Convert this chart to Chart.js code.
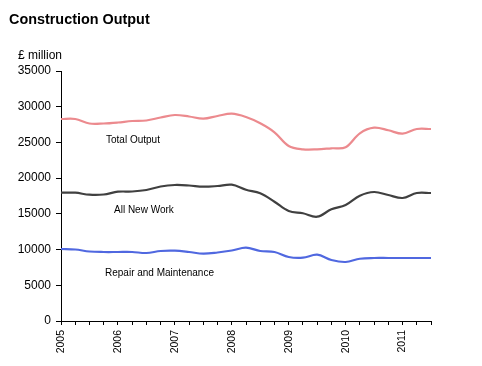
<!DOCTYPE html>
<html>
<head>
<meta charset="utf-8">
<script src="https://cdn.jsdelivr.net/npm/chart.js@4.4.1/dist/chart.umd.min.js"></script>
<style>
  html, body { margin: 0; padding: 0; background: #fff; }
  #wrap { position: relative; width: 482px; height: 366px; }
  canvas { display: block; }
</style>
</head>
<body>
<div id="wrap"><canvas id="c" width="482" height="366"></canvas></div>
<script>
// Quarterly categories, 2005 Q1 .. 2011 Q3
const quarters = [
  '2005 Q1','2005 Q2','2005 Q3','2005 Q4',
  '2006 Q1','2006 Q2','2006 Q3','2006 Q4',
  '2007 Q1','2007 Q2','2007 Q3','2007 Q4',
  '2008 Q1','2008 Q2','2008 Q3','2008 Q4',
  '2009 Q1','2009 Q2','2009 Q3','2009 Q4',
  '2010 Q1','2010 Q2','2010 Q3','2010 Q4',
  '2011 Q1','2011 Q2','2011 Q3'
];
const totalOutput = [
  28280, 28280, 27650, 27650, 27790, 28000, 28070, 28490,
  28840, 28630, 28320, 28700, 29020, 28560, 27680, 26420,
  24500, 24040, 24040, 24180, 24320, 26280, 27060, 26700,
  26220, 26880, 26880
];
const allNewWork = [
  17960, 17960, 17680, 17710, 18100, 18130, 18340, 18830,
  19040, 18970, 18800, 18900, 19080, 18380, 17880, 16700,
  15400, 15080, 14600, 15640, 16240, 17540, 18060, 17640,
  17220, 17920, 17920
];
const repairMaintenance = [
  10080, 10010, 9730, 9660, 9660, 9660, 9520, 9800,
  9840, 9660, 9420, 9590, 9870, 10260, 9800, 9660,
  8960, 8860, 9280, 8540, 8260, 8720, 8820, 8820,
  8820, 8820, 8820
];
const yTicks = [0, 5000, 10000, 15000, 20000, 25000, 30000, 35000];

const FONT = '"Liberation Sans", Arial, sans-serif';

const textPlugin = {
  id: 'texts',
  afterDraw(chart) {
    const ctx = chart.ctx;
    ctx.save();
    ctx.fillStyle = '#000';
    ctx.textAlign = 'left';
    ctx.textBaseline = 'alphabetic';
    ctx.font = 'bold 14.4px ' + FONT;
    ctx.fillText('Construction Output', 9, 24);
    ctx.font = '12px ' + FONT;
    ctx.fillText('£ million', 18, 58.5);
    ctx.font = '10px ' + FONT;
    ctx.fillText('Total Output', 106, 143);
    ctx.fillText('All New Work', 114, 213);
    ctx.fillText('Repair and Maintenance', 105, 275.5);
    ctx.restore();
  }
};

new Chart(document.getElementById('c'), {
  type: 'line',
  data: {
    labels: quarters,
    datasets: [
      { label: 'Total Output', data: totalOutput, borderColor: '#ec8a8e', borderWidth: 2.2 },
      { label: 'All New Work', data: allNewWork, borderColor: '#404040', borderWidth: 2.2 },
      { label: 'Repair and Maintenance', data: repairMaintenance, borderColor: '#5068e0', borderWidth: 2.2 }
    ]
  },
  options: {
    responsive: false,
    animation: false,
    devicePixelRatio: 1,
    layout: { padding: { left: 0, top: 71, right: 51, bottom: 0 } },
    elements: {
      point: { radius: 0 },
      line: { tension: 0.35, fill: false }
    },
    plugins: {
      legend: { display: false },
      tooltip: { enabled: false },
      title: { display: false }
    },
    scales: {
      x: {
        type: 'category',
        offset: false,
        border: { display: true, color: '#000', width: 1 },
        grid: { display: true, drawOnChartArea: false, drawTicks: true, tickLength: 4, color: '#000', offset: false },
        ticks: {
          autoSkip: false,
          maxRotation: 90,
          minRotation: 90,
          padding: 5,
          color: '#000',
          font: { family: FONT, size: 10.5 },
          callback: function (value) {
            const lab = this.getLabelForValue(value);
            return lab.endsWith('Q1') ? lab.slice(0, 4) : '';
          }
        },
        afterFit(scale) { scale.height = 45; }
      },
      y: {
        min: 0,
        max: 35000,
        border: { display: true, color: '#000', width: 1 },
        grid: { display: true, drawOnChartArea: false, drawTicks: true, tickLength: 5, color: '#000' },
        afterBuildTicks(scale) { scale.ticks = yTicks.map(v => ({ value: v })); },
        ticks: {
          padding: 5,
          color: '#000',
          font: { family: FONT, size: 12 },
          callback: v => String(v)
        },
        afterFit(scale) { scale.width = 61; }
      }
    }
  },
  plugins: [textPlugin]
});
</script>
</body>
</html>
